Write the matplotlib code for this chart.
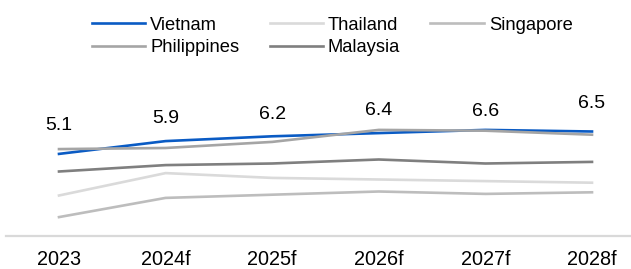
import matplotlib
matplotlib.use("Agg")
import matplotlib.pyplot as plt

plt.rcParams['font.family'] = ['Liberation Sans', 'DejaVu Sans']

years = ["2023", "2024f", "2025f", "2026f", "2027f", "2028f"]
vietnam = [5.1, 5.9, 6.2, 6.4, 6.6, 6.5]
thailand = [2.5, 3.9, 3.6, 3.5, 3.4, 3.3]
singapore = [1.15, 2.35, 2.55, 2.75, 2.6, 2.7]
philippines = [5.4, 5.47, 5.85, 6.6, 6.55, 6.3]
malaysia = [4.0, 4.4, 4.5, 4.75, 4.5, 4.6]
label_offsets = [20.5, 16.5, 16, 16, 13, 20]  # points above the Vietnam line

W, H = 631, 269
fig = plt.figure(figsize=(W / 100, H / 100), dpi=100)
ax = fig.add_axes([5.7 / W, 33.5 / H, 639.6 / W, 128 / H])

x = list(range(len(years)))
lw = 1.9
lv, = ax.plot(x, vietnam, color="#0A5BC4", lw=lw, label="Vietnam", zorder=3)
lt, = ax.plot(x, thailand, color="#DADADA", lw=lw, label="Thailand", zorder=3)
ls, = ax.plot(x, singapore, color="#BDBDBD", lw=lw, label="Singapore", zorder=3)
lp, = ax.plot(x, philippines, color="#A5A5A5", lw=lw, label="Philippines", zorder=4)
lm, = ax.plot(x, malaysia, color="#7F7F7F", lw=lw, label="Malaysia", zorder=3)

for xi, v, off in zip(x, vietnam, label_offsets):
    ax.annotate(f"{v:.1f}", (xi, v), xytext=(0, off), textcoords="offset points",
                ha="center", va="center", fontsize=14, color="#000000",
                annotation_clip=False)

ax.set_xlim(-0.5, len(years) - 0.5)
ax.set_ylim(0, 8)
ax.set_xticks(x)
ax.set_xticklabels(years, fontsize=14.3)
ax.tick_params(axis="x", length=0, pad=10.5)
ax.set_yticks([])
for s in ["top", "right", "left"]:
    ax.spines[s].set_visible(False)
ax.spines["bottom"].set_color("#D9D9D9")
ax.spines["bottom"].set_linewidth(1.6)

handles = [lv, lp, lt, lm, ls]
fig.legend(handles=handles, labels=[h.get_label() for h in handles],
           ncol=3, loc="upper left", bbox_to_anchor=(92 / W, 1 - 16.5 / H),
           frameon=False, fontsize=13.2, handlelength=2.9, handletextpad=0.28,
           columnspacing=1.65, labelspacing=0.3, borderpad=0, borderaxespad=0)

fig.savefig("out.png", dpi=100)
